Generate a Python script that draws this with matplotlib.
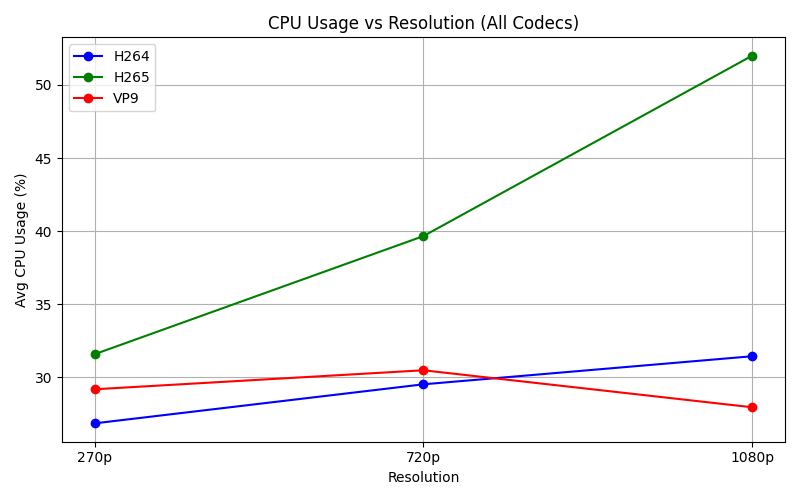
import matplotlib
matplotlib.use("Agg")
import matplotlib.pyplot as plt

resolutions = ["270p", "720p", "1080p"]
h264_cpu = [26.85, 29.52, 31.44]
h265_cpu = [31.58, 39.66, 52.0]
vp9_cpu = [29.18, 30.48, 27.95]

fig, ax = plt.subplots(figsize=(8, 5), dpi=100)
ax.plot(resolutions, h264_cpu, marker="o", color="blue", label="H264")
ax.plot(resolutions, h265_cpu, marker="o", color="green", label="H265")
ax.plot(resolutions, vp9_cpu, marker="o", color="red", label="VP9")
ax.set_title("CPU Usage vs Resolution (All Codecs)")
ax.set_xlabel("Resolution")
ax.set_ylabel("Avg CPU Usage (%)")
ax.grid(True)
ax.legend(loc="upper left")
fig.tight_layout()
fig.savefig("out.png", dpi=100)
